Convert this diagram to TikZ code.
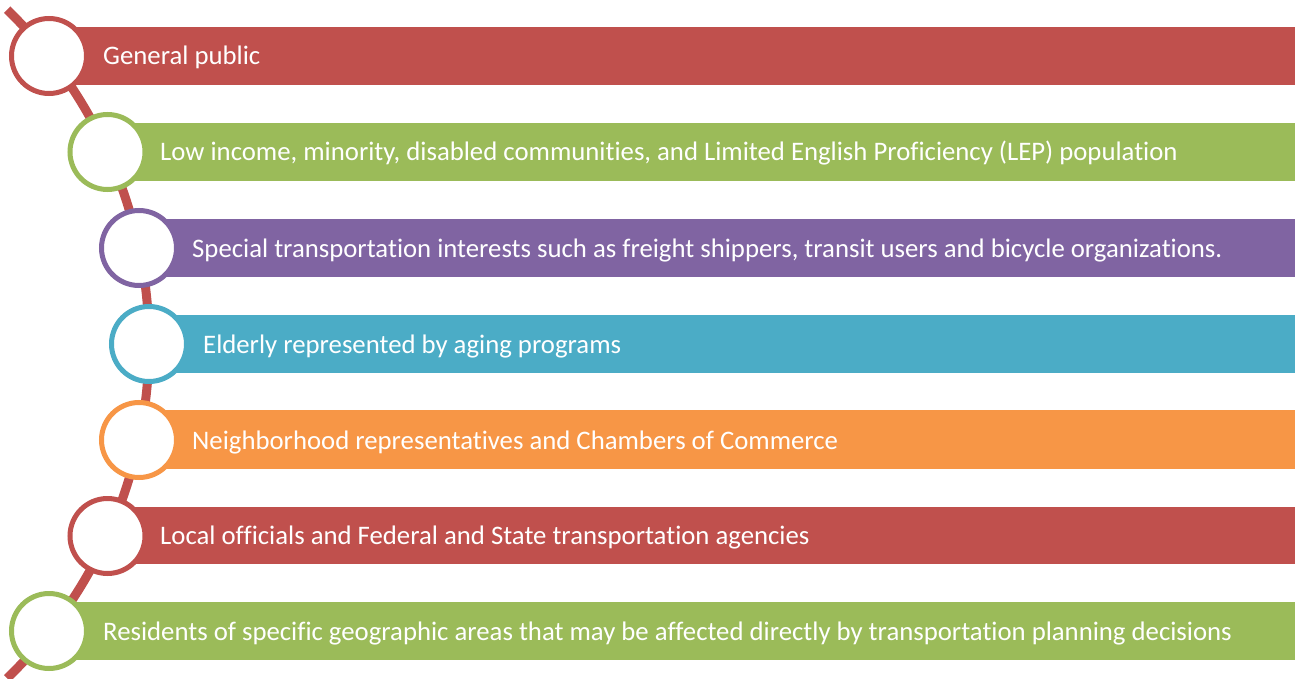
\documentclass[tikz,border=0pt]{standalone}
\usepackage{fontspec}
\setmainfont[Ligatures=NoCommon]{Carlito}
\definecolor{cred}{HTML}{C0504D}
\definecolor{cgreen}{HTML}{9BBB59}
\definecolor{cpurple}{HTML}{8064A2}
\definecolor{cteal}{HTML}{4BACC6}
\definecolor{corange}{HTML}{F79646}
\begin{document}
\begin{tikzpicture}[x=1pt,y=-1pt,
  ring/.style={circle, draw=#1, line width=5pt, fill=white, minimum size=75pt, inner sep=0pt},
  label/.style={anchor=base west, text=white, inner sep=0pt, font=\fontsize{26.75}{30}\selectfont}]
\useasboundingbox (0,0) rectangle (1295,679);
\fill[white] (0,0) rectangle (1295,679);
% bars
\fill[cred]    (49,27)    rectangle (1295,85);
\fill[cgreen]  (107.5,123) rectangle (1295,181);
\fill[cpurple] (139,219)  rectangle (1295,277);
\fill[cteal]   (149,315)  rectangle (1295,373);
\fill[corange] (139,410)  rectangle (1295,469);
\fill[cred]    (107.5,507) rectangle (1295,564);
\fill[cgreen]  (49,602)   rectangle (1295,660);
% backbone arc
\coordinate (arcc) at (-315.7,344);
\draw[cred, line width=9pt] (arcc) ++(-46:464.7) arc[start angle=-46, end angle=46, radius=464.7];
% circles
\node[ring=cred]    (c1) at (49,56) {};
\node[ring=cgreen]  (c2) at (107.5,152) {};
\node[ring=cpurple] (c3) at (139,248) {};
\node[ring=cteal]   (c4) at (149,344) {};
\node[ring=corange] (c5) at (139,440) {};
\node[ring=cred]    (c6) at (107.5,536) {};
\node[ring=cgreen]  (c7) at (49,631) {};
% texts
\node[label] (t1) at (103,65) {General public};
\node[label] (t2) at (160,161) {Low income, minority, disabled communities, and Limited English Proficiency (LEP) population};
\node[label] (t3) at (192,257) {Special transportation interests such as freight shippers, transit users and bicycle organizations.};
\node[label] (t4) at (203,353) {Elderly represented by aging programs};
\node[label] (t5) at (192,449) {Neighborhood representatives and Chambers of Commerce};
\node[label] (t6) at (160,544) {Local officials and Federal and State transportation agencies};
\node[label] (t7) at (103,640) {Residents of specific geographic areas that may be affected directly by transportation planning decisions};
\end{tikzpicture}
\end{document}
